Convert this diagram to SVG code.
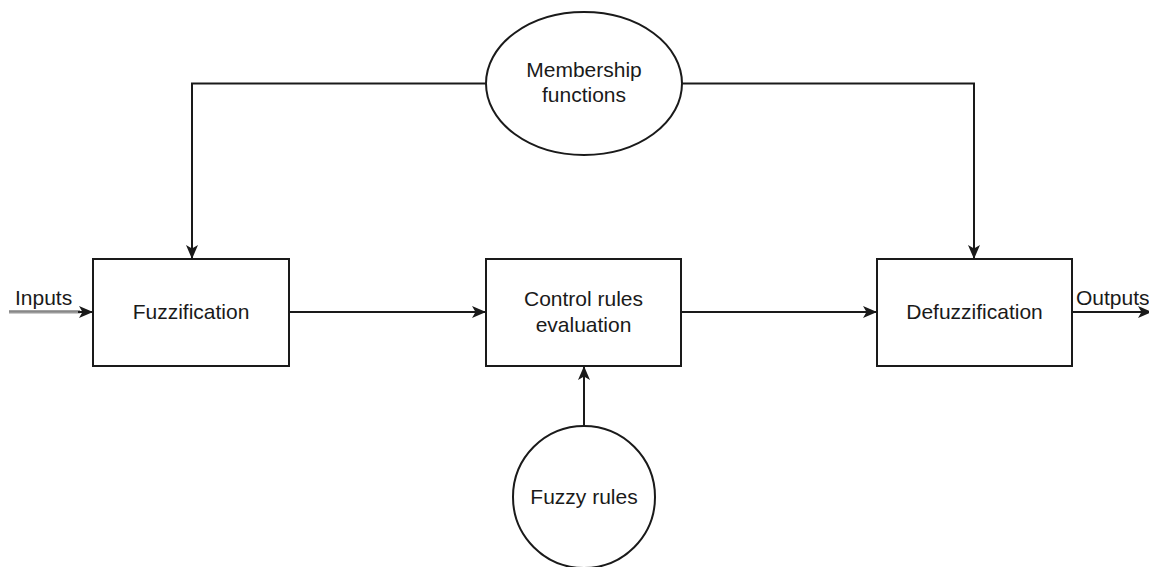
<svg xmlns="http://www.w3.org/2000/svg" width="1149" height="567" viewBox="0 0 1149 567">
  <style>
    .box { fill: #ffffff; stroke: #1a1a1a; stroke-width: 2; }
    .edge { fill: none; stroke: #1a1a1a; stroke-width: 2; }
    .lbl { font-family: "Liberation Sans", Arial, sans-serif; font-size: 21px; fill: #1a1a1a; text-anchor: middle; }
    .side { font-family: "Liberation Sans", Arial, sans-serif; font-size: 21px; fill: #1a1a1a; }
  </style>
  <defs>
    <marker id="arrow" markerUnits="userSpaceOnUse" markerWidth="16" markerHeight="14" viewBox="-15 -7 16 14" refX="0" refY="0" orient="auto">
      <path d="M0,0 L-14,-6 L-10.5,0 L-14,6 Z" fill="#1a1a1a"/>
    </marker>
  </defs>

  <rect width="1149" height="567" fill="#ffffff"/>

  <!-- connectors -->
  <g id="connectors">
    <!-- input feed -->
    <line x1="9" y1="312.5" x2="80" y2="312.5" stroke="#9a9a9a" stroke-width="2"/>
    <line x1="9" y1="311" x2="80" y2="311" stroke="#444444" stroke-width="1.2"/>
    <path class="edge" d="M78,312 L93,312" marker-end="url(#arrow)"/>
    <!-- main chain -->
    <path class="edge" d="M289,312 L486,312" marker-end="url(#arrow)"/>
    <path class="edge" d="M681,312 L877,312" marker-end="url(#arrow)"/>
    <path class="edge" d="M1072,312 L1152,312" marker-end="url(#arrow)"/>
    <!-- membership functions feed both ends -->
    <path class="edge" d="M486,83.5 L192,83.5 L192,259" marker-end="url(#arrow)"/>
    <path class="edge" d="M682,83.5 L974,83.5 L974,259" marker-end="url(#arrow)"/>
    <!-- rule base into evaluation -->
    <path class="edge" d="M584,426 L584,366" marker-end="url(#arrow)"/>
  </g>

  <!-- edge labels -->
  <text class="side" x="15" y="305">Inputs</text>
  <text class="side" x="1076" y="305">Outputs</text>

  <g id="fuzzification">
    <rect class="box" x="93" y="259" width="196" height="107"/>
    <text class="lbl" x="191" y="319">Fuzzification</text>
  </g>

  <g id="control-rules">
    <rect class="box" x="486" y="259" width="195" height="107"/>
    <text class="lbl" x="583.5" y="306">Control rules</text>
    <text class="lbl" x="583.5" y="331.5">evaluation</text>
  </g>

  <g id="defuzzification">
    <rect class="box" x="877" y="259" width="195" height="107"/>
    <text class="lbl" x="974.5" y="319">Defuzzification</text>
  </g>

  <g id="membership-functions">
    <ellipse class="box" cx="584" cy="83.5" rx="98" ry="71.5"/>
    <text class="lbl" x="584" y="77">Membership</text>
    <text class="lbl" x="584" y="102">functions</text>
  </g>

  <g id="fuzzy-rules">
    <circle class="box" cx="584" cy="497" r="71"/>
    <text class="lbl" x="584" y="504">Fuzzy rules</text>
  </g>
</svg>
